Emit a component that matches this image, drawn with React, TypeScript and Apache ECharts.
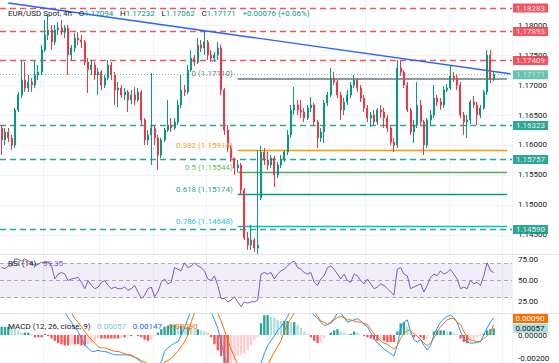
import React, { useEffect, useRef } from "react";
import * as echarts from "echarts";

// [open, close, low, high]
const candles = [
  [1.16283, 1.16083, 1.15833, 1.16333], [1.16083, 1.16217, 1.16, 1.16283], [1.16217, 1.16117, 1.1605, 1.16283], [1.16117, 1.16, 1.15917, 1.16167],
  [1.16, 1.16583, 1.1595, 1.16617], [1.16583, 1.16833, 1.1655, 1.16883], [1.16833, 1.17083, 1.16783, 1.17417], [1.17083, 1.1695, 1.16883, 1.17383],
  [1.1695, 1.1705, 1.16883, 1.17167], [1.1705, 1.17, 1.16883, 1.17117], [1.17, 1.17167, 1.1695, 1.17417], [1.17167, 1.17217, 1.17083, 1.17333],
  [1.17217, 1.17583, 1.17167, 1.17667], [1.17583, 1.17833, 1.1755, 1.18083], [1.17833, 1.17917, 1.1775, 1.18167], [1.17917, 1.17717, 1.17583, 1.18],
  [1.17717, 1.17917, 1.17667, 1.18], [1.17917, 1.1795, 1.17833, 1.1805], [1.1795, 1.17883, 1.17833, 1.18083], [1.17883, 1.1795, 1.17783, 1.18],
  [1.1795, 1.175, 1.17167, 1.18], [1.175, 1.17617, 1.17417, 1.17667], [1.17617, 1.17783, 1.1755, 1.17867], [1.17783, 1.1775, 1.17667, 1.17883],
  [1.1775, 1.17717, 1.17617, 1.17833], [1.17717, 1.17383, 1.17333, 1.1775], [1.17383, 1.1725, 1.16867, 1.1745], [1.1725, 1.17333, 1.17167, 1.17417],
  [1.17333, 1.17167, 1.17083, 1.17383], [1.17167, 1.17217, 1.16833, 1.17283], [1.17217, 1.17, 1.16917, 1.1725], [1.17, 1.17117, 1.1695, 1.17167],
  [1.17117, 1.17333, 1.17083, 1.17417], [1.17333, 1.17167, 1.17083, 1.17383], [1.17167, 1.16917, 1.16667, 1.17217], [1.16917, 1.1695, 1.16633, 1.1705],
  [1.1695, 1.16833, 1.16783, 1.17], [1.16833, 1.16883, 1.1675, 1.1695], [1.16883, 1.1675, 1.1655, 1.16917], [1.1675, 1.16833, 1.16683, 1.16917],
  [1.16833, 1.1675, 1.16667, 1.16967], [1.1675, 1.16883, 1.16717, 1.1695], [1.16883, 1.16417, 1.16333, 1.16917], [1.16417, 1.16083, 1.16, 1.1645],
  [1.16083, 1.16167, 1.16, 1.1625], [1.16167, 1.16283, 1.15667, 1.172], [1.16283, 1.16117, 1.16, 1.16333], [1.16117, 1.15833, 1.15583, 1.16167],
  [1.15833, 1.16083, 1.15783, 1.16117], [1.16083, 1.1625, 1.1605, 1.16283], [1.1625, 1.16333, 1.16217, 1.1675], [1.16333, 1.16283, 1.16217, 1.1645],
  [1.16283, 1.16383, 1.1625, 1.1645], [1.16383, 1.16667, 1.16333, 1.1675], [1.16667, 1.16917, 1.16617, 1.17167], [1.16917, 1.16883, 1.16817, 1.17],
  [1.16883, 1.1725, 1.1685, 1.17333], [1.1725, 1.1745, 1.17217, 1.17583], [1.1745, 1.17383, 1.17317, 1.175], [1.17383, 1.17667, 1.1735, 1.17783],
  [1.17667, 1.17617, 1.1755, 1.1775], [1.17617, 1.17717, 1.175, 1.17883], [1.17717, 1.175, 1.17417, 1.1775], [1.175, 1.1745, 1.17383, 1.17583],
  [1.1745, 1.175, 1.17383, 1.1755], [1.175, 1.17617, 1.17417, 1.17717], [1.17617, 1.16917, 1.16833, 1.17667], [1.16917, 1.1625, 1.16167, 1.1695],
  [1.1625, 1.1595, 1.15883, 1.16333], [1.1595, 1.15783, 1.15717, 1.16], [1.15783, 1.15617, 1.155, 1.15783], [1.15617, 1.15667, 1.1555, 1.1575],
  [1.15667, 1.1525, 1.15167, 1.157], [1.1525, 1.1445, 1.14417, 1.15283], [1.1445, 1.14333, 1.1425, 1.1455], [1.14333, 1.14417, 1.1425, 1.14667],
  [1.14417, 1.14283, 1.14217, 1.1445], [1.14283, 1.14333, 1.14217, 1.14417], [1.15117, 1.15883, 1.15083, 1.15983], [1.15883, 1.1575, 1.15667, 1.1595],
  [1.1575, 1.15667, 1.15583, 1.15883], [1.15667, 1.15783, 1.15617, 1.15833], [1.15783, 1.155, 1.153, 1.15817], [1.155, 1.15667, 1.1545, 1.15717],
  [1.15667, 1.1575, 1.15617, 1.15833], [1.1575, 1.15883, 1.15717, 1.15917], [1.15883, 1.16167, 1.15833, 1.1625], [1.16167, 1.16583, 1.16117, 1.16667],
  [1.16583, 1.16667, 1.165, 1.16967], [1.16667, 1.16583, 1.165, 1.1675], [1.16583, 1.1655, 1.1645, 1.1675], [1.1655, 1.1645, 1.16383, 1.16617],
  [1.1645, 1.16617, 1.16417, 1.16667], [1.16617, 1.16667, 1.1655, 1.168], [1.16667, 1.16383, 1.16333, 1.167], [1.16383, 1.16117, 1.1595, 1.16417],
  [1.16117, 1.16217, 1.1605, 1.16283], [1.16217, 1.167, 1.16033, 1.1675], [1.167, 1.16833, 1.1665, 1.16883], [1.16833, 1.17117, 1.168, 1.17283],
  [1.17117, 1.1705, 1.17, 1.17217], [1.1705, 1.16833, 1.16783, 1.17083], [1.16833, 1.16583, 1.16417, 1.16883], [1.16583, 1.16717, 1.165, 1.16783],
  [1.16717, 1.16833, 1.16667, 1.16917], [1.16833, 1.17, 1.16783, 1.1705], [1.17, 1.17083, 1.1695, 1.17167], [1.17083, 1.1695, 1.16883, 1.17117],
  [1.1695, 1.16783, 1.16717, 1.17], [1.16783, 1.16617, 1.1655, 1.16833], [1.16617, 1.1645, 1.16383, 1.16667], [1.1645, 1.165, 1.163, 1.1655],
  [1.165, 1.16383, 1.16333, 1.16583], [1.16383, 1.16583, 1.16333, 1.16617], [1.16583, 1.1655, 1.1645, 1.16667], [1.1655, 1.1645, 1.16283, 1.16617],
  [1.1645, 1.16283, 1.16217, 1.165], [1.16283, 1.1605, 1.16, 1.16333], [1.1605, 1.16, 1.15883, 1.16117], [1.16, 1.17283, 1.1595, 1.17417],
  [1.17283, 1.17217, 1.1715, 1.17417], [1.17217, 1.17, 1.1695, 1.1725], [1.17, 1.16583, 1.1655, 1.1705], [1.16583, 1.16217, 1.16167, 1.16617],
  [1.16217, 1.16333, 1.16033, 1.16417], [1.16333, 1.16667, 1.16283, 1.1705], [1.16667, 1.16383, 1.16333, 1.1675], [1.16383, 1.16, 1.15833, 1.16417],
  [1.16, 1.16417, 1.1595, 1.1645], [1.16417, 1.165, 1.16333, 1.16583], [1.165, 1.16783, 1.1645, 1.17], [1.16783, 1.16717, 1.1665, 1.16833],
  [1.16717, 1.16667, 1.16583, 1.16783], [1.16667, 1.16917, 1.16617, 1.16983], [1.16917, 1.1695, 1.16883, 1.17017], [1.1695, 1.1715, 1.16917, 1.17333],
  [1.1715, 1.17117, 1.1705, 1.17217], [1.17117, 1.17, 1.16917, 1.17167], [1.17, 1.165, 1.1645, 1.1705], [1.165, 1.16383, 1.16167, 1.1655],
  [1.16383, 1.16417, 1.16117, 1.165], [1.16417, 1.16717, 1.1635, 1.1675], [1.16717, 1.16667, 1.16617, 1.16817], [1.16667, 1.165, 1.16333, 1.16717],
  [1.165, 1.16617, 1.1645, 1.16667], [1.16617, 1.16883, 1.16583, 1.16917], [1.16883, 1.175, 1.16833, 1.17583], [1.175, 1.17095, 1.17033, 1.17583],
  [1.17094, 1.17171, 1.17062, 1.17232],
];

const rsi = [
  65.2, 64.1, 67.1, 67.1, 75.5, 74.8, 72.9, 75.5, 72.9, 71,
  67.9, 69, 71.7, 71, 71.7, 67.1, 51.9, 57.6, 59.5, 57.6,
  50, 51.9, 52.7, 53.8, 48.1, 40.5, 50, 44.3, 40.5, 42.4,
  48.1, 50, 44.3, 40.5, 42.4, 40.5, 40.5, 42.4, 38.6, 40.5,
  44.3, 36.7, 29, 32.9, 40.5, 42.4, 31, 36.7, 48.1, 51.9,
  46.2, 48.1, 65.2, 63.3, 61.4, 71, 65.2, 67.1, 71, 67.1,
  65.2, 61.4, 51.9, 50, 55.7, 44.3, 29, 29, 25.2, 27.1,
  31, 25.2, 19.5, 25.2, 23.3, 25.2, 25.2, 27, 57.6, 59.5,
  57.6, 59.5, 51.9, 57.6,
  61.4, 63.3, 67.1, 71, 72.9, 65.2, 63.3, 59.5, 57.6, 59.5,
  48.1, 44.3, 51.9, 55.7, 65.2, 67.1, 63.3, 57.6, 51.9, 57.6,
  50, 48.1, 57.6, 55.7, 50, 46.2, 51.9, 46.2, 40.5, 42.4,
  46.2, 44.3, 40.5, 36.7, 32.9, 63.3, 65.2, 57.6, 55.7, 40.5,
  42.4, 44.3, 46.2, 36.7, 44.3, 53.8, 57.6, 55.7, 61.4, 57.6,
  59.5, 63.3, 57.6, 51.9, 40.5, 42.4, 40.5, 50, 46.2, 48.1,
  44.3, 55, 71, 62, 59.35,
];

const macdLine = [
  0.0026, 0.0027, 0.0028, 0.0028, 0.0029, 0.0029, 0.003, 0.003, 0.003, 0.003,
  0.0029, 0.0029, 0.003, 0.0034, 0.0034, 0.0031, 0.0028, 0.0025, 0.0022, 0.0019,
  0.0015, 0.0011, 0.0006, 0.0003, -0.0003, -0.0009, -0.0011, -0.0014, -0.0014, -0.0013,
  -0.0014, -0.0014, -0.0015, -0.0016, -0.0017, -0.0017, -0.0017, -0.0017, -0.0017, -0.0018,
  -0.0019, -0.0021, -0.0023, -0.0027, -0.003, -0.0031, -0.003, -0.0027, -0.0023, -0.0014,
  -0.0011, -0.0009, -0.0007, -0.0006, 0, 0.0006, 0.0014, 0.0021, 0.0026, 0.0028,
  0.003, 0.0031, 0.003, 0.002, 0.0013, 0.0006, -0.0006, -0.0018, -0.0029, -0.0036,
  -0.004, -0.0042, -0.0044, -0.005, -0.0052, -0.005, -0.0045, -0.004, -0.0024, -0.0016,
  -0.0009, -0.0005, -0.0001, 0.0004, 0.0007, 0.0011, 0.0016, 0.0021, 0.0024, 0.0025,
  0.0025, 0.0024, 0.0023, 0.002, 0.0017, 0.0014, 0.0011, 0.0008, 0.0009, 0.0011,
  0.0014, 0.0019, 0.0019, 0.0015, 0.0011, 0.0012, 0.0013, 0.0014, 0.0012, 0.0009,
  0.0007, 0.0002, -0.0003, -0.0007, -0.0009, -0.0012, -0.0014, -0.0016, -0.0018, -0.0009,
  0.0006, 0.0011, 0.0013, 0.0003, -0.0004, -0.0006, -0.0004, -0.0009, -0.0013, -0.0009,
  0, 0.0006, 0.0011, 0.0014, 0.0016, 0.0017, 0.0015, 0.0011, 0.0003, -0.0003,
  -0.0006, -0.0007, -0.0007, -0.0006, -0.0006, 0, 0.0006, 0.0011, 0.00147,
];

const signalLine = [
  0.0019, 0.002, 0.0021, 0.0022, 0.0023, 0.0024, 0.0025, 0.0026, 0.0027, 0.0029,
  0.003, 0.0031, 0.0032, 0.0033, 0.0033, 0.0033, 0.0033, 0.0032, 0.0031, 0.0028,
  0.0024, 0.0019, 0.0014, 0.0011, 0.0007, 0.0003, -0.0001, -0.0004, -0.0007, -0.001,
  -0.0011, -0.0011, -0.0012, -0.0013, -0.0014, -0.0014, -0.0015, -0.0016, -0.0017, -0.0017,
  -0.0019, -0.002, -0.0022, -0.0023, -0.0025, -0.0027, -0.0029, -0.0029, -0.0028, -0.0023,
  -0.0022, -0.002, -0.0017, -0.0014, -0.001, -0.0006, 0, 0.0011, 0.0019, 0.0022,
  0.0025, 0.0027, 0.0029, 0.0027, 0.0024, 0.0019, 0.0012, 0.0004, -0.0004, -0.0012,
  -0.0019, -0.0025, -0.0031, -0.0037, -0.0041, -0.0044, -0.0045, -0.0045, -0.004, -0.0033,
  -0.0026, -0.002, -0.0015, -0.001, -0.0005, 0.0003, 0.001, 0.0014, 0.0019, 0.0021,
  0.0022, 0.0022, 0.0022, 0.0021, 0.002, 0.0016, 0.0012, 0.0011, 0.0009, 0.001,
  0.0013, 0.0015, 0.0016, 0.0015, 0.0013, 0.0013, 0.0012, 0.0011, 0.0011, 0.001,
  0.0009, 0.0005, 0.0001, -0.0002, -0.0005, -0.0007, -0.0008, -0.001, -0.0012, -0.0009,
  -0.0003, 0.0001, 0.0004, 0.0004, 0.0001, -0.0001, -0.0004, -0.0007, -0.0009, -0.0007,
  -0.0003, 0.0003, 0.0007, 0.001, 0.0013, 0.0014, 0.0014, 0.0011, 0.0009, 0.0003,
  -0.0002, -0.0004, -0.0005, -0.0006, -0.0005, -0.0003, -0.0001, 0.0002, 0.0009,
];

const histogram = [
  0.0007, 0.0007, 0.0007, 0.0006, 0.0005, 0.0004, 0.0002, 0.0002, 0.0002, 0.0001,
  -0.0002, -0.0002, -0.0002, 0.0001, -0.0001, -0.0003, -0.0005, -0.0007, -0.0008, -0.0009,
  -0.0009, -0.0008, -0.0008, -0.0008, -0.0009, -0.0009, -0.0008, -0.0007, -0.0005, -0.0003,
  -0.0003, -0.0003, -0.0003, -0.0003, -0.0003, -0.0003, -0.0002, -0.0002, -0.0001, -0.0001,
  0, -0.0001, -0.0002, -0.0004, -0.0005, -0.0004, -0.0001, 0.0002, 0.0005, 0.0007,
  0.0008, 0.0009, 0.0009, 0.0008, 0.0008, 0.0007, 0.0007, 0.0006, 0.0005, 0.0005,
  0.0004, 0.0003, 0.0002, -0.0002, -0.0008, -0.0013, -0.0018, -0.0024, -0.0027, -0.0026,
  -0.0022, -0.0018, -0.0017, -0.0016, -0.0013, -0.0009, -0.0004, -0.0002, 0.001, 0.0017,
  0.0017, 0.0016, 0.0015, 0.0013, 0.0012, 0.0012, 0.0012, 0.0011, 0.0011, 0.0009,
  0.0006, 0.0003, 0.0001, -0.0002, -0.0005, -0.0007, -0.0006, -0.0003, 0, 0.0002,
  0.0004, 0.0005, 0.0003, 0.0002, 0.0001, 0.0001, 0.0003, 0.0002, 0, -0.0001,
  -0.0002, -0.0003, -0.0004, -0.0005, -0.0004, -0.0005, -0.0006, -0.0006, -0.0006, 0.0003,
  0.001, 0.0011, 0.0007, 0.0002, -0.0002, -0.0001, -0.0002, -0.0004, -0.0003, 0,
  0.0003, 0.0004, 0.0004, 0.0004, 0.0003, 0.0003, 0.0002, 0.0001, -0.0003, -0.0006,
  -0.0007, -0.0006, -0.0004, -0.0002, -0.0001, 0.0001, 0.0004, 0.0005, 0.00057,
];

const priceTicks = [1.145, 1.15, 1.155, 1.16, 1.165, 1.17, 1.175, 1.18];
const rsiTicks = [25, 50, 75];
const rsiGuides = [70, 50, 30];
const macdTicks = [-0.002, 0];
const resistanceLevels = [1.18283, 1.17893, 1.17409];
const supportLevels = [1.16323, 1.15757, 1.1459];
const fibRatios = ["0", "0.382", "0.5", "0.618", "0.786"];
const fibPrices = [1.1711, 1.15914, 1.15544, 1.15174, 1.14648];
const fibStartIndex = 71;
const fibEdgeIndex = 77;
const trendStart = [2, 1.18367];
const trendEnd = [153, 1.17187];
const emptySlots = 5;
const verticalGridIdx = [13, 30, 46, 62, 93, 110, 135, 151];

const PRICE_MIN = 1.14183;
const PRICE_MAX = 1.18417;

const RED = "#f23645";
const GREEN = "#089981";
const FIB_LINE = ["#9598a1", "#ff9800", "#4caf50", "#089981", "#00bcd4"];
const FIB_TEXT = ["#787b86", "#f5a623", "#66bb6a", "#22ab94", "#26c6da"];
const FONT = "Roboto";

export default function App() {
  const ref = useRef<HTMLDivElement>(null);
  useEffect(() => {
    document.body.style.margin = "0";
    if (!ref.current) return;
    const chart = echarts.init(ref.current, undefined, { renderer: "svg" });
    const n = candles.length;
    const lastIdx = candles.length + emptySlots - 1;
    const categories = Array.from({ length: n + emptySlots }, (_, i) => String(i));
    const last = candles[n - 1];
    const prevClose = candles[n - 2][1];
    const chg = last[1] - prevClose;
    const pct = (chg / prevClose) * 100;
    const f5 = (v: number) => v.toFixed(5);

    const boxLabel = (bg: string, text: string, fg = "#ffffff") => ({
      show: true,
      position: "end",
      distance: 1,
      formatter: text,
      backgroundColor: bg,
      color: fg,
      fontSize: 8,
      fontFamily: FONT,
      lineHeight: 9,
      padding: [0, 3, 0, 3],
    });

    const priceMarks: any[] = [];
    resistanceLevels.forEach((v) =>
      priceMarks.push({ yAxis: v, lineStyle: { color: RED, type: [6, 4], width: 1.3, opacity: 0.85 }, label: boxLabel(RED, f5(v)) })
    );
    supportLevels.forEach((v) =>
      priceMarks.push({ yAxis: v, lineStyle: { color: GREEN, type: [6, 4], width: 1.3, opacity: 0.85 }, label: boxLabel(GREEN, f5(v)) })
    );
    priceMarks.push({
      yAxis: last[1],
      lineStyle: { color: GREEN, type: [1, 2], width: 1, opacity: 0.6 },
      label: boxLabel(GREEN, f5(last[1])),
    });
    fibPrices.forEach((p, k) =>
      priceMarks.push([
        {
          coord: [fibStartIndex, p],
          lineStyle: { color: FIB_LINE[k], type: "solid", width: k === 0 ? 2 : 1.3 },
          label: { show: false },
        },
        { coord: [lastIdx - 1, p] },
      ])
    );
    priceMarks.push([
      { coord: [fibEdgeIndex, fibPrices[1]], lineStyle: { color: GREEN, type: "solid", width: 1 }, label: { show: false } },
      { coord: [fibEdgeIndex, PRICE_MIN] },
    ]);
    priceMarks.push([
      { coord: trendStart, lineStyle: { color: "#2962ff", type: "solid", width: 1.4 }, label: { show: false } },
      { coord: trendEnd },
    ]);

    const histColors = histogram.map((v, i) => {
      const prev = i > 0 ? histogram[i - 1] : v;
      if (v >= 0) return v >= prev ? "#26a69a" : "#b2dfdb";
      return v <= prev ? "#ff5252" : "#ffcdd2";
    });

    const xAxisBase = (gridIndex: number) => ({
      type: "category",
      gridIndex,
      data: categories,
      boundaryGap: true,
      axisLine: { show: false },
      axisTick: { show: false },
      axisLabel: { show: false },
      splitLine: {
        show: true,
        interval: (index: number) => verticalGridIdx.includes(index),
        lineStyle: { color: "#f0f3fa", width: 1 },
      },
    });

    const axisLabelBase = {
      color: "#131722",
      fontSize: 8,
      fontFamily: FONT,
      margin: 6,
    };

    const rich = {
      n: { fill: "#131722", fontSize: 8, fontFamily: FONT },
      g: { fill: GREEN, fontSize: 8, fontFamily: FONT },
      p: { fill: "#7e57c2", fontSize: 8, fontFamily: FONT },
      h: { fill: "#80cbc4", fontSize: 8, fontFamily: FONT },
      b: { fill: "#2962ff", fontSize: 8, fontFamily: FONT },
      o: { fill: "#ff6d00", fontSize: 8, fontFamily: FONT },
    };

    const lastRsi = rsi[rsi.length - 1];
    const lastMacd = macdLine[macdLine.length - 1];
    const lastSignal = signalLine[signalLine.length - 1];
    const lastHist = histogram[histogram.length - 1];

    const baseGraphic: any[] = [
      {
        type: "line",
        shape: { x1: 0, y1: 254.5, x2: 559, y2: 254.5 },
        style: { stroke: "#e0e3eb", lineWidth: 1 },
        silent: true,
      },
      {
        type: "line",
        shape: { x1: 0, y1: 313.5, x2: 559, y2: 313.5 },
        style: { stroke: "#e0e3eb", lineWidth: 1 },
        silent: true,
      },
      {
        type: "text",
        left: 8,
        top: 7,
        z: 10,
        style: {
          text: `{n|EUR/USD Spot, 4h}  {n|O}{g|${f5(last[0])}}  {n|H}{g|${f5(last[3])}}  {n|L}{g|${f5(last[2])}}  {n|C}{g|${f5(last[1])}}  {g|${chg >= 0 ? "+" : ""}${f5(chg)} (${chg >= 0 ? "+" : ""}${pct.toFixed(2)}%)}`,
          rich,
        },
      },
      {
        type: "text",
        left: 8,
        top: 257,
        z: 10,
        style: { text: `{n|RSI (14)}  {p|${lastRsi.toFixed(2)}}`, rich },
      },
      {
        type: "text",
        left: 8,
        top: 320,
        z: 10,
        style: {
          text: `{n|MACD (12, 26, close, 9)}  {h|${f5(lastHist)}}  {b|${f5(lastMacd)}}  {o|${f5(lastSignal)}}`,
          rich,
        },
      },
      {
        type: "group",
        z: 10,
        children: [
          { type: "rect", shape: { x: 512, y: 314, width: 36, height: 9 }, style: { fill: "#ff6d00" } },
          {
            type: "text",
            x: 530,
            y: 318.5,
            style: { text: f5(lastSignal), fill: "#ffffff", fontSize: 8, fontFamily: FONT, align: "center", verticalAlign: "middle" },
          },
          { type: "rect", shape: { x: 512, y: 324, width: 36, height: 9 }, style: { fill: "#b2dfdb" } },
          {
            type: "text",
            x: 530,
            y: 328.5,
            style: { text: f5(lastHist), fill: "#131722", fontSize: 8, fontFamily: FONT, align: "center", verticalAlign: "middle" },
          },
        ],
      },
    ];

    chart.setOption({
      animation: false,
      backgroundColor: "#ffffff",
      grid: [
        { left: 0, top: 0, width: 512, height: 254 },
        { left: 0, top: 255, width: 512, height: 58 },
        { left: 0, top: 314, width: 512, height: 49 },
      ],
      xAxis: [xAxisBase(0), xAxisBase(1), xAxisBase(2)],
      yAxis: [
        {
          type: "value",
          gridIndex: 0,
          position: "right",
          min: PRICE_MIN,
          max: PRICE_MAX,
          axisLine: { show: false },
          axisTick: { show: false, customValues: priceTicks },
          axisLabel: { ...axisLabelBase, customValues: priceTicks, formatter: (v: number) => v.toFixed(5) },
          splitLine: { show: true, lineStyle: { color: "#f0f3fa" } },
        },
        {
          type: "value",
          gridIndex: 1,
          position: "right",
          min: 12,
          max: 80,
          axisLine: { show: false },
          axisTick: { show: false, customValues: rsiTicks },
          axisLabel: { ...axisLabelBase, customValues: rsiTicks, formatter: (v: number) => v.toFixed(2) },
          splitLine: { show: false },
        },
        {
          type: "value",
          gridIndex: 2,
          position: "right",
          min: -0.0024,
          max: 0.0018,
          axisLine: { show: false },
          axisTick: { show: false, customValues: macdTicks },
          axisLabel: { ...axisLabelBase, customValues: macdTicks, formatter: (v: number) => v.toFixed(5) },
          splitLine: { show: false },
        },
      ],
      series: [
        {
          type: "candlestick",
          xAxisIndex: 0,
          yAxisIndex: 0,
          data: candles,
          barWidth: 1.5,
          itemStyle: { color: GREEN, color0: RED, borderColor: GREEN, borderColor0: RED, borderWidth: 1 },
          markLine: { symbol: ["none", "none"], silent: true, z: 1, precision: 5, data: priceMarks },
        },
        {
          type: "line",
          xAxisIndex: 1,
          yAxisIndex: 1,
          data: rsi,
          showSymbol: false,
          symbol: "none",
          lineStyle: { color: "#7e57c2", width: 1 },
          markArea: {
            silent: true,
            itemStyle: { color: "rgba(126,87,194,0.1)" },
            data: [[{ yAxis: rsiGuides[0] }, { yAxis: rsiGuides[2] }]],
          },
          markLine: {
            symbol: ["none", "none"],
            silent: true,
            precision: 5,
            data: [
              ...rsiGuides.map((v) => ({ yAxis: v, lineStyle: { color: "#787b86", type: [4, 3], width: 1, opacity: 0.6 }, label: { show: false } })),
              { yAxis: lastRsi, lineStyle: { opacity: 0, width: 0 }, label: boxLabel("#7e57c2", lastRsi.toFixed(2)) },
            ],
          },
        },
        {
          type: "bar",
          xAxisIndex: 2,
          yAxisIndex: 2,
          data: histogram,
          barWidth: "70%",
          itemStyle: { color: (p: any) => histColors[p.dataIndex] },
        },
        {
          type: "line",
          xAxisIndex: 2,
          yAxisIndex: 2,
          data: macdLine,
          showSymbol: false,
          symbol: "none",
          lineStyle: { color: "#2196f3", width: 1 },
        },
        {
          type: "line",
          xAxisIndex: 2,
          yAxisIndex: 2,
          data: signalLine,
          showSymbol: false,
          symbol: "none",
          lineStyle: { color: "#ff6d00", width: 1 },
        },
      ],
      graphic: baseGraphic,
    });

    const fibLabels = fibPrices.map((p, k) => {
      const pt = chart.convertToPixel({ xAxisIndex: 0, yAxisIndex: 0 }, [fibStartIndex, p]) as number[];
      return {
        type: "text",
        x: pt[0] - 5,
        y: pt[1] - 5,
        z: 3,
        silent: true,
        style: {
          text: `${fibRatios[k]} (${f5(p)})`,
          fill: FIB_TEXT[k],
          fontSize: 8,
          fontFamily: FONT,
          align: "right",
          verticalAlign: "middle",
        },
      };
    });
    chart.setOption({ graphic: [...baseGraphic, ...fibLabels] });

    return () => chart.dispose();
  }, []);
  return <div ref={ref} style={{ width: 559, height: 363 }} />;
}
